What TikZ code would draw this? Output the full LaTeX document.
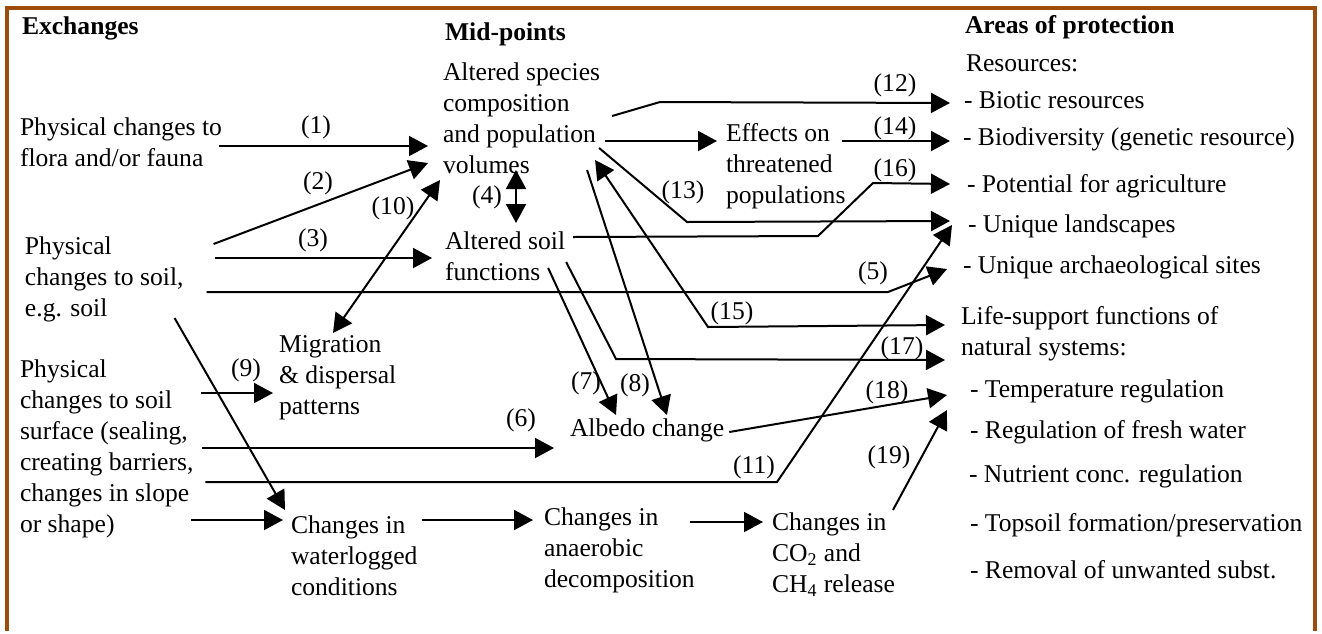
\documentclass[tikz,border=0pt]{standalone}
\usepackage{fontspec}
\setmainfont{Liberation Serif}
\usetikzlibrary{arrows.meta}
\definecolor{framebrown}{RGB}{158,76,12}
\begin{document}
\begin{tikzpicture}[x=0.5pt,y=-0.5pt,
  every node/.style={inner sep=0pt,outer sep=0pt},
  txt/.style={anchor=west,align=left,font=\fontsize{12.8}{15.5}\selectfont},
  head/.style={anchor=west,font=\fontsize{12.8}{15.5}\selectfont\bfseries},
  lbl/.style={font=\fontsize{12.8}{15.5}\selectfont},
  tip/.style={Triangle[length=9.5pt,width=10pt]},
  arr/.style={line width=1pt,-{Triangle[length=9.5pt,width=10pt]}},
  arrb/.style={line width=1pt,{Triangle[length=9.5pt,width=10pt]}-{Triangle[length=9.5pt,width=10pt]}},
  ln/.style={line width=1pt}]

% canvas and frame
\fill[white] (0,0) rectangle (1322,631);
\draw[framebrown,line width=2pt] (7,631) -- (7,8) -- (1315,8) -- (1315,631);

% column headings
\node[head] (exch) at (22,28) {Exchanges};
\node[head] (midp) at (445,34) {Mid-points};
\node[head] (aop)  at (965,27) {Areas of protection};
\node[txt]  (res)  at (966,63) {Resources:};

% exchanges
\node[txt] (pf)  at (20,142.5) {Physical changes to\\flora and/or fauna};
\node[txt] (ps)  at (25,279) {Physical\\changes to soil,\\e.g. soil};
\node[txt] (pss) at (20,449) {Physical\\changes to soil\\surface (sealing,\\creating barriers,\\changes in slope\\or shape)};

% mid-points
\node[txt] (sp)   at (443,118.5) {Altered species\\composition\\and population\\volumes};
\node[txt] (eff)  at (726,166.5) {Effects on\\threatened\\populations};
\node[txt] (soil) at (445,256) {Altered soil\\functions};
\node[txt] (mig)  at (279,378) {Migration\\\& dispersal\\patterns};
\node[txt] (alb)  at (570,430) {Albedo change};
\node[txt] (wl)   at (291,555.5) {Changes in\\waterlogged\\conditions};
\node[txt] (an)   at (544,550.5) {Changes in\\anaerobic\\decomposition};
\node[txt] (co)   at (772,554.5) {Changes in\\CO\textsubscript{2} and\\CH\textsubscript{4} release};

% areas of protection
\node[txt] (r1) at (964,100) {- Biotic resources};
\node[txt] (r2) at (963,139) {- Biodiversity (genetic resource)};
\node[txt] (r3) at (967,186) {- Potential for agriculture};
\node[txt] (r4) at (968,226) {- Unique landscapes};
\node[txt] (r5) at (963,267) {- Unique archaeological sites};
\node[txt] (ls) at (961,334) {Life-support functions of\\natural systems:};
\node[txt] (t1) at (970,391) {- Temperature regulation};
\node[txt] (t2) at (970,432) {- Regulation of fresh water};
\node[txt] (t3) at (969,476) {- Nutrient conc. regulation};
\node[txt] (t4) at (970,525) {- Topsoil formation/preservation};
\node[txt] (t5) at (970,570) {- Removal of unwanted subst.};

% connectors
\draw[arr] ([shift={(-3,3.5)}]pf.east) -- ([shift={(-15,27.5)}]sp.west);               % (1)
\draw[arr] ([shift={(30,-35)}]ps.east) -- ([shift={(-15,44.5)}]sp.west);                % (2)
\draw[arr] ([shift={(31,-21)}]ps.east) -- ([shift={(-13,2)}]soil.west);                 % (3)
\draw[arrb] ([shift={(73,51.5)}]sp.west) -- ([shift={(71,-33)}]soil.west);              % (4)
\draw[arr] ([shift={(23,13)}]ps.east) -- ([shift={(-75,25)}]r5.west)
           -- ([shift={(-16,2)}]r5.west);                                                % (5)
\draw[arr] ([shift={(9,-1)}]pss.east) -- ([shift={(-16,18)}]alb.west);                  % (6)
\draw[arr] ([shift={(-17,12)}]soil.east) -- ([shift={(46,-15)}]alb.west);               % (7)
\draw[arr] ([shift={(-13,51.5)}]sp.east) -- ([shift={(97,-15)}]alb.west);               % (8)
\draw[arr] ([shift={(8,-56)}]pss.east) -- ([shift={(-6,15)}]mig.west);                  % (9)
\draw[arrb] ([shift={(54,-45)}]mig.west) -- ([shift={(-3,61.5)}]sp.west);               % (10)
\draw[arr] ([shift={(12,33)}]pss.east) -- ([shift={(-191,256)}]r4.west)
           -- ([shift={(-16,-1)}]r4.west);                                               % (11)
\draw[arr] ([shift={(12,-2.5)}]sp.east) -- ([shift={(-304,2)}]r1.west)
           -- ([shift={(-14,3)}]r1.west);                                                % (12)
\draw[arr] ([shift={(5,22.5)}]sp.east) -- ([shift={(-9,-25.5)}]eff.west);
\draw[arr] ([shift={(-1,29.5)}]sp.east) -- ([shift={(-281,-4)}]r4.west)
           -- ([shift={(-18,-5)}]r4.west);                                               % (13)
\draw[arr] ([shift={(-3,-25.5)}]eff.east) -- ([shift={(-13,2)}]r2.west);                % (14)
\draw[arrb] ([shift={(-5,41.5)}]sp.east) -- ([shift={(-253,-7)}]ls.west)
           -- ([shift={(-16,-9)}]ls.west);                                               % (15)
\draw[arr] ([shift={(8,-19)}]soil.east) -- ([shift={(-149,50)}]r3.west)
           -- ([shift={(-94,-3)}]r3.west) -- ([shift={(-17,-2)}]r3.west);                % (16)
\draw[arr] ([shift={(1,6)}]soil.east) -- ([shift={(-345,25)}]ls.west)
           -- ([shift={(-16,26)}]ls.west);                                               % (17)
\draw[arr] ([shift={(5,2)}]alb.east) -- ([shift={(-23,4)}]t1.west);                     % (18)
\draw[arr] ([shift={(-2,-44.5)}]co.east) -- ([shift={(-23,19)}]t1.west);                % (19)
\draw[arr] ([shift={(-9,39)}]ps.east) -- ([shift={(-6,-45.5)}]wl.west);
\draw[arr] ([shift={(-2,71)}]pss.east) -- ([shift={(-8,-35.5)}]wl.west);
\draw[arr] ([shift={(4,-35.5)}]wl.east) -- ([shift={(-11,-30.5)}]an.west);
\draw[arr] ([shift={(-5,-28.5)}]an.east) -- ([shift={(-9,-32.5)}]co.west);

% connector numbers
\node[lbl] (n1)  at (316,127) {(1)};
\node[lbl] (n2)  at (318,183) {(2)};
\node[lbl] (n3)  at (313,240) {(3)};
\node[lbl] (n4)  at (487,197) {(4)};
\node[lbl] (n5)  at (873,273) {(5)};
\node[lbl] (n6)  at (521,420) {(6)};
\node[lbl] (n7)  at (586,383) {(7)};
\node[lbl] (n8)  at (635,385) {(8)};
\node[lbl] (n9)  at (246,370) {(9)};
\node[lbl] (n10) at (393,208) {(10)};
\node[lbl] (n11) at (754,467) {(11)};
\node[lbl] (n12) at (895,85)  {(12)};
\node[lbl] (n13) at (683,192) {(13)};
\node[lbl] (n14) at (895,128) {(14)};
\node[lbl] (n15) at (732,313) {(15)};
\node[lbl] (n16) at (895,170) {(16)};
\node[lbl] (n17) at (902,348) {(17)};
\node[lbl] (n18) at (887,392) {(18)};
\node[lbl] (n19) at (889,457) {(19)};
\end{tikzpicture}
\end{document}
